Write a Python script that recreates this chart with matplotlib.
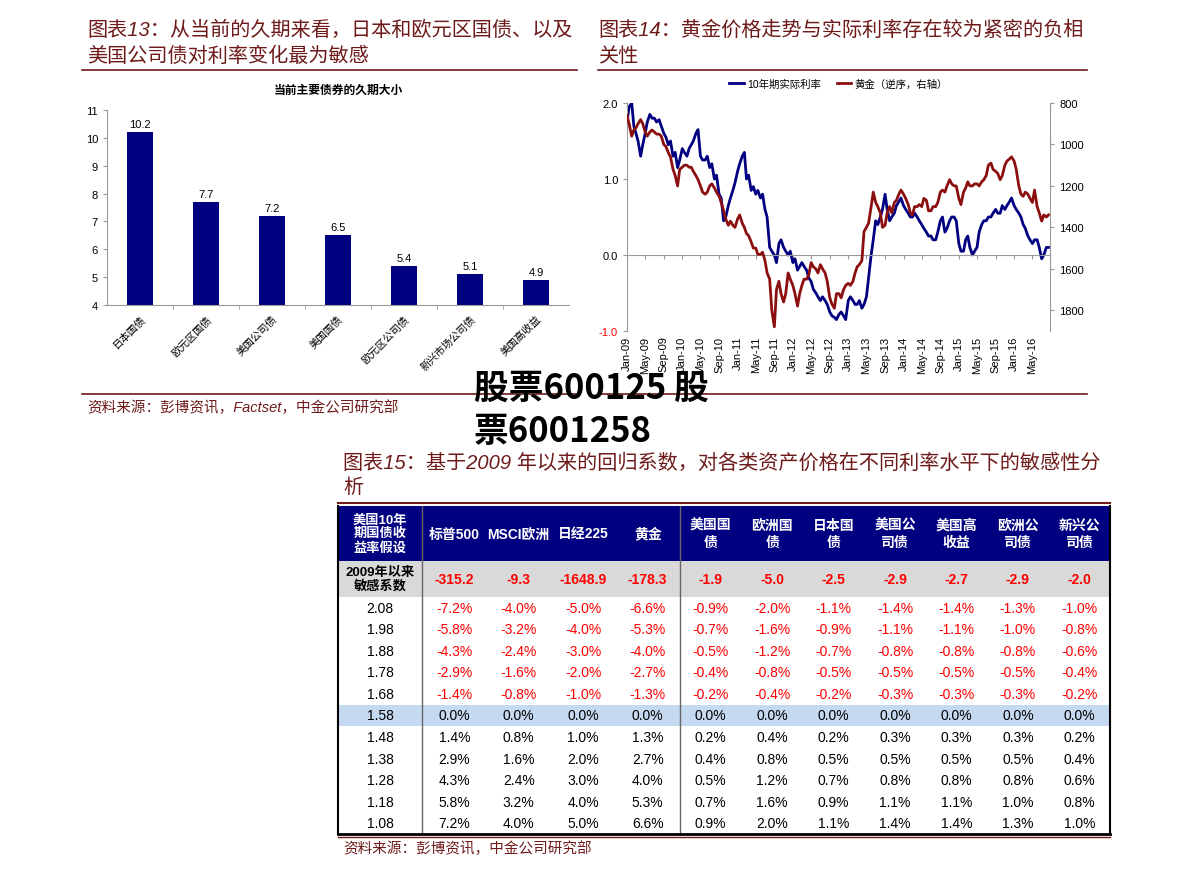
import pandas as pd
import matplotlib
matplotlib.use('Agg')
import matplotlib.pyplot as plt
import matplotlib.dates as mdates
from matplotlib.patches import Rectangle
from matplotlib.transforms import blended_transform_factory

plt.rcParams['font.family'] = ['Liberation Sans', 'Noto Sans CJK SC', 'DejaVu Sans']
plt.rcParams['axes.unicode_minus'] = False

W, H = 1191, 878
DARKRED = '#6e1a1a'
NAVY = '#000080'
GOLDRED = '#8c0f0f'
GRAY = '#9a9a9a'

# ---- chart 13 data ----
bond_names = ['日本国债', '欧元区国债', '美国公司债', '美国国债', '欧元区公司债', '新兴市场公司债', '美国高收益']
durations = [10.2, 7.7, 7.2, 6.5, 5.4, 5.1, 4.9]

# ---- chart 14 data (semi-monthly, Jan-09 .. Aug-16) ----
real_rate = [
    1.75, 1.95, 2.00, 1.70, 1.60, 1.50, 1.30, 1.45, 1.60, 1.75, 1.85, 1.80,
    1.80, 1.75, 1.78, 1.70, 1.60, 1.55, 1.45, 1.50, 1.30, 1.35, 1.15, 1.25,
    1.40, 1.35, 1.30, 1.40, 1.45, 1.50, 1.60, 1.65, 1.30, 1.25, 1.25, 1.30,
    1.15, 1.20, 1.00, 1.05, 0.80, 0.75, 0.45, 0.50, 0.65, 0.75, 0.85, 0.95,
    1.10, 1.20, 1.30, 1.35, 1.00, 1.05, 0.85, 0.90, 0.80, 0.85, 0.75, 0.80,
    0.60, 0.50, 0.10, 0.05, 0.00, -0.10, 0.15, 0.20, 0.10, 0.05, 0.00, 0.05,
    -0.10, -0.05, -0.20, -0.15, -0.10, -0.15, -0.20, -0.30, -0.35, -0.45, -0.50, -0.55,
    -0.60, -0.55, -0.60, -0.65, -0.75, -0.80, -0.82, -0.85, -0.78, -0.75, -0.80, -0.85,
    -0.60, -0.55, -0.60, -0.65, -0.65, -0.60, -0.70, -0.65, -0.55, -0.30, 0.00, 0.20,
    0.45, 0.40, 0.50, 0.60, 0.80, 0.60, 0.45, 0.50, 0.55, 0.65, 0.70, 0.75,
    0.65, 0.60, 0.55, 0.50, 0.50, 0.55, 0.50, 0.45, 0.40, 0.35, 0.30, 0.25,
    0.25, 0.20, 0.20, 0.30, 0.45, 0.50, 0.30, 0.35, 0.45, 0.50, 0.50, 0.45,
    0.15, 0.05, 0.05, 0.20, 0.25, 0.10, 0.00, 0.05, 0.10, 0.30, 0.40, 0.45,
    0.45, 0.50, 0.50, 0.55, 0.60, 0.55, 0.55, 0.65, 0.60, 0.65, 0.70, 0.75,
    0.65, 0.60, 0.55, 0.50, 0.40, 0.35, 0.25, 0.20, 0.15, 0.20, 0.20, 0.10,
    -0.05, 0.00, 0.10, 0.10,
]
gold = [
    860, 900, 960, 930, 920, 900, 880, 900, 940, 960, 940, 930,
    940, 950, 950, 960, 1000, 1010, 1040, 1060, 1120, 1150, 1200, 1120,
    1110, 1100, 1100, 1110, 1110, 1130, 1150, 1170, 1200, 1230, 1240, 1230,
    1200, 1190, 1210, 1230, 1250, 1280, 1320, 1360, 1390, 1370, 1390, 1400,
    1360, 1340, 1380, 1400, 1430, 1440, 1470, 1500, 1500, 1530, 1530, 1520,
    1560, 1620, 1650, 1800, 1880, 1700, 1660, 1720, 1760, 1720, 1620, 1650,
    1680, 1720, 1780, 1720, 1680, 1650, 1650, 1630, 1570, 1590, 1600, 1620,
    1580, 1600, 1620, 1660, 1740, 1770, 1790, 1720, 1720, 1740, 1700, 1680,
    1670, 1680, 1660, 1620, 1590, 1580, 1560, 1420, 1400, 1380, 1300, 1230,
    1280, 1300, 1330, 1400, 1390, 1330, 1300, 1330, 1280, 1270, 1240, 1220,
    1240, 1260, 1290, 1330, 1340, 1300, 1300, 1290, 1300, 1260, 1270, 1320,
    1320, 1300, 1300, 1280, 1230, 1220, 1230, 1200, 1170, 1190, 1200, 1200,
    1260, 1290, 1230, 1210, 1180, 1200, 1200, 1190, 1190, 1200, 1180, 1170,
    1150, 1100, 1090, 1120, 1130, 1140, 1170, 1150, 1100, 1080, 1070, 1060,
    1080, 1120, 1200, 1240, 1250, 1230, 1240, 1260, 1280, 1220, 1300, 1330,
    1370, 1340, 1350, 1340,
]
dates = pd.date_range('2009-01-01', periods=len(real_rate), freq='SMS')

# ---- chart 15 table data ----
col_heads = ['标普500', 'MSCI欧洲', '日经225', '黄金', '美国国\n债', '欧洲国\n债', '日本国\n债',
             '美国公\n司债', '美国高\n收益', '欧洲公\n司债', '新兴公\n司债']
coefs = [-315.2, -9.3, -1648.9, -178.3, -1.9, -5.0, -2.5, -2.9, -2.7, -2.9, -2.0]
rates = [2.08, 1.98, 1.88, 1.78, 1.68, 1.58, 1.48, 1.38, 1.28, 1.18, 1.08]
sens = [
    [-7.2, -4.0, -5.0, -6.6, -0.9, -2.0, -1.1, -1.4, -1.4, -1.3, -1.0],
    [-5.8, -3.2, -4.0, -5.3, -0.7, -1.6, -0.9, -1.1, -1.1, -1.0, -0.8],
    [-4.3, -2.4, -3.0, -4.0, -0.5, -1.2, -0.7, -0.8, -0.8, -0.8, -0.6],
    [-2.9, -1.6, -2.0, -2.7, -0.4, -0.8, -0.5, -0.5, -0.5, -0.5, -0.4],
    [-1.4, -0.8, -1.0, -1.3, -0.2, -0.4, -0.2, -0.3, -0.3, -0.3, -0.2],
    [0.0, 0.0, 0.0, 0.0, 0.0, 0.0, 0.0, 0.0, 0.0, 0.0, 0.0],
    [1.4, 0.8, 1.0, 1.3, 0.2, 0.4, 0.2, 0.3, 0.3, 0.3, 0.2],
    [2.9, 1.6, 2.0, 2.7, 0.4, 0.8, 0.5, 0.5, 0.5, 0.5, 0.4],
    [4.3, 2.4, 3.0, 4.0, 0.5, 1.2, 0.7, 0.8, 0.8, 0.8, 0.6],
    [5.8, 3.2, 4.0, 5.3, 0.7, 1.6, 0.9, 1.1, 1.1, 1.0, 0.8],
    [7.2, 4.0, 5.0, 6.6, 0.9, 2.0, 1.1, 1.4, 1.4, 1.3, 1.0],
]


def box(l, t, r, b):
    return [l / W, 1 - b / H, (r - l) / W, (b - t) / H]


fig = plt.figure(figsize=(W / 100, H / 100), dpi=100)

# ---------------- bar chart ----------------
ax1 = fig.add_axes(box(107, 111, 569, 306))
x = range(len(durations))
ax1.bar(x, durations, width=0.4, color=NAVY)
for i, v in enumerate(durations):
    ax1.text(i, v + 0.12, f'{v:.1f}', ha='center', va='bottom', fontsize=8)
ax1.set_xlim(-0.5, len(durations) - 0.5)
ax1.set_ylim(4, 11)
ax1.set_yticks(range(4, 12))
ax1.set_xticks(list(x))
ax1.set_xticklabels(bond_names, rotation=45, ha='right', rotation_mode='anchor', fontsize=7.5)
ax1.set_xticks([i + 0.5 for i in range(len(durations) - 1)], minor=True)
ax1.tick_params(axis='x', which='major', length=0, pad=6)
ax1.tick_params(axis='x', which='minor', length=3, color=GRAY)
ax1.tick_params(axis='y', length=3, color=GRAY, labelsize=8)
for s in ['top', 'right']:
    ax1.spines[s].set_visible(False)
for s in ['left', 'bottom']:
    ax1.spines[s].set_color(GRAY)
ax1.set_title('当前主要债券的久期大小', fontsize=8.5, fontweight='bold', pad=12)

# ---------------- line chart ----------------
ax2 = fig.add_axes(box(627, 104, 1050, 332))
l1, = ax2.plot(dates, real_rate, color=NAVY, lw=2.0)
ax2.set_ylim(-1, 2)
ax2.set_yticks([-1, 0, 1, 2])
ax2.set_yticklabels(['-1.0', '0.0', '1.0', '2.0'], fontsize=8)
ax2.get_yticklabels()[0].set_color('red')
ax2.set_xlim(pd.Timestamp('2009-01-01'), pd.Timestamp('2016-08-25'))
ax2.spines['bottom'].set_position(('data', 0))
ax2.spines['bottom'].set_color(GRAY)
ax2.spines['left'].set_color(GRAY)
ax2.spines['top'].set_visible(False)
ax2.spines['right'].set_visible(False)
ax2.xaxis.set_major_locator(mdates.MonthLocator(bymonth=[1, 5, 9]))
ax2.tick_params(axis='x', labelbottom=False, length=3, color=GRAY)
ax2.tick_params(axis='y', length=3, color=GRAY)
trans = blended_transform_factory(ax2.transData, ax2.transAxes)
for d in pd.date_range('2009-01-01', '2016-05-01', freq='4MS'):
    ax2.text(mdates.date2num(d), -0.02, d.strftime('%b-%y'), transform=trans,
             rotation=90, ha='center', va='top', fontsize=8)

axr = ax2.twinx()
l2, = axr.plot(dates, gold, color=GOLDRED, lw=2.0)
axr.set_ylim(1900, 800)
axr.set_yticks(range(800, 1801, 200))
axr.tick_params(axis='y', labelsize=8, length=3, color=GRAY)
for s in ['top', 'bottom', 'left']:
    axr.spines[s].set_visible(False)
axr.spines['right'].set_color(GRAY)
ax2.legend([l1, l2], ['10年期实际利率', '黄金（逆序，右轴）'], loc='lower center',
           bbox_to_anchor=(0.5, 1.02), ncol=2, frameon=False, fontsize=7.5,
           handlelength=1.4, columnspacing=1.5, handletextpad=0.3)

# ---------------- overlay: titles, table, watermark ----------------
ov = fig.add_axes([0, 0, 1, 1])
ov.set_xlim(0, W)
ov.set_ylim(H, 0)
ov.axis('off')
ov.patch.set_alpha(0)

tkw = dict(fontsize=14.5, color=DARKRED, va='center', style='italic')
ov.text(87, 30, '图表13：从当前的久期来看，日本和欧元区国债、以及', **tkw)
ov.text(87, 56, '美国公司债对利率变化最为敏感', **tkw)
ov.text(598, 30, '图表14：黄金价格走势与实际利率存在较为紧密的负相', **tkw)
ov.text(598, 56, '关性', **tkw)
ov.plot([82, 577], [71, 71], color=DARKRED, lw=1.2)
ov.plot([598, 1087], [71, 71], color=DARKRED, lw=1.2)
ov.plot([82, 577], [395, 395], color=DARKRED, lw=1.2)
ov.plot([598, 1087], [395, 395], color=DARKRED, lw=1.2)
ov.text(87, 408, '资料来源：彭博资讯，Factset，中金公司研究部', fontsize=10.5, color=DARKRED,
        va='center', style='italic')

ov.text(343, 463, '图表15：基于2009 年以来的回归系数，对各类资产价格在不同利率水平下的敏感性分', **tkw)
ov.text(343, 488, '析', **tkw)
ov.plot([338, 1110], [504, 504], color=DARKRED, lw=1.5)

# table layout
tl, tr = 338, 1110
c1, c2 = 422, 680
top, head_b, coef_b, bot = 507, 562, 598, 835
row_h = (bot - coef_b) / len(rates)
centers = [c1 + (c2 - c1) / 4 * (i + 0.5) for i in range(4)] + \
          [c2 + (tr - c2) / 7 * (i + 0.5) for i in range(7)]

ov.add_patch(Rectangle((tl, top), tr - tl, head_b - top, color=NAVY, lw=0))
ov.add_patch(Rectangle((tl, head_b), tr - tl, coef_b - head_b, color='#d9d9d9', lw=0))
hi = rates.index(1.58)
ov.add_patch(Rectangle((tl, coef_b + hi * row_h), tr - tl, row_h, color='#c5d9f1', lw=0))

ov.text((tl + c1) / 2, (top + head_b) / 2, '美国10年\n期国债收\n益率假设', color='white',
        fontsize=9.5, fontweight='bold', ha='center', va='center', linespacing=1.15)
for cx, h in zip(centers, col_heads):
    ov.text(cx, (top + head_b) / 2, h, color='white', fontsize=10, fontweight='bold',
            ha='center', va='center', linespacing=1.3)

ov.text((tl + c1) / 2, (head_b + coef_b) / 2, '2009年以来\n敏感系数', color='black',
        fontsize=9.5, fontweight='bold', ha='center', va='center', linespacing=1.15)
for cx, v in zip(centers, coefs):
    ov.text(cx, (head_b + coef_b) / 2, f'{v:.1f}', color='red', fontsize=10,
            fontweight='bold', ha='center', va='center')

for r, (rate, vals) in enumerate(zip(rates, sens)):
    cy = coef_b + (r + 0.5) * row_h
    ov.text((tl + c1) / 2, cy, f'{rate:.2f}', fontsize=10, ha='center', va='center')
    for cx, v in zip(centers, vals):
        ov.text(cx, cy, f'{v:.1f}%', fontsize=10, ha='center', va='center',
                color='red' if v < 0 else 'black')

for xv in [c1, c2]:
    ov.plot([xv, xv], [top, bot], color='#666666', lw=1)
ov.plot([tl, tl], [top, bot], color='black', lw=1.5)
ov.plot([tr, tr], [top, bot], color='black', lw=1.5)
ov.plot([tl, tr], [bot, bot], color='black', lw=2)
ov.plot([338, 1110], [838, 838], color=DARKRED, lw=1)
ov.text(343, 849, '资料来源：彭博资讯，中金公司研究部', fontsize=10.5, color=DARKRED,
        va='center', style='italic')

# watermark text
wkw = dict(fontsize=25, fontweight='bold', color='black', va='center',
           family=['Noto Sans CJK SC', 'DejaVu Sans'])
ov.text(474, 388, '股票600125 股', **wkw)
ov.text(474, 432, '票6001258', **wkw)

fig.savefig('out.png', dpi=100)
